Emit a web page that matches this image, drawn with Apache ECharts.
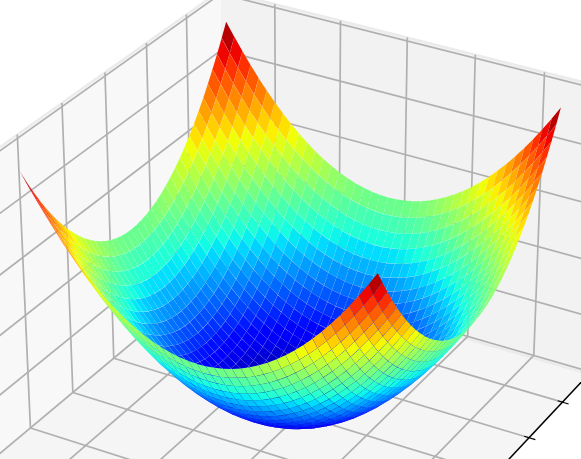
<!DOCTYPE html><html><head><meta charset="utf-8"><style>html,body{margin:0;background:#fff}#c{width:581px;height:459px}</style></head><body><div id="c"></div>
<script src="https://cdn.jsdelivr.net/npm/echarts@6/dist/echarts.min.js"></script>
<script>
// Surface heights: one quadrant of the symmetric bowl.
// Row = grid steps from the centre line; column = edge (0) to centre (20).
const zQuadrant=[
[400,361,324,289,256,225,196,169,144,121,100,81,64,49,36,25,16,9,4,1,0],
[401,362,325,290,257,226,197,170,145,122,101,82,65,50,37,26,17,10,5,2,1],
[404,365,328,293,260,229,200,173,148,125,104,85,68,53,40,29,20,13,8,5,4],
[409,370,333,298,265,234,205,178,153,130,109,90,73,58,45,34,25,18,13,10,9],
[416,377,340,305,272,241,212,185,160,137,116,97,80,65,52,41,32,25,20,17,16],
[425,386,349,314,281,250,221,194,169,146,125,106,89,74,61,50,41,34,29,26,25],
[436,397,360,325,292,261,232,205,180,157,136,117,100,85,72,61,52,45,40,37,36],
[449,410,373,338,305,274,245,218,193,170,149,130,113,98,85,74,65,58,53,50,49],
[464,425,388,353,320,289,260,233,208,185,164,145,128,113,100,89,80,73,68,65,64],
[481,442,405,370,337,306,277,250,225,202,181,162,145,130,117,106,97,90,85,82,81],
[500,461,424,389,356,325,296,269,244,221,200,181,164,149,136,125,116,109,104,101,100],
[521,482,445,410,377,346,317,290,265,242,221,202,185,170,157,146,137,130,125,122,121],
[544,505,468,433,400,369,340,313,288,265,244,225,208,193,180,169,160,153,148,145,144],
[569,530,493,458,425,394,365,338,313,290,269,250,233,218,205,194,185,178,173,170,169],
[596,557,520,485,452,421,392,365,340,317,296,277,260,245,232,221,212,205,200,197,196],
[625,586,549,514,481,450,421,394,369,346,325,306,289,274,261,250,241,234,229,226,225],
[656,617,580,545,512,481,452,425,400,377,356,337,320,305,292,281,272,265,260,257,256],
[689,650,613,578,545,514,485,458,433,410,389,370,353,338,325,314,305,298,293,290,289],
[724,685,648,613,580,549,520,493,468,445,424,405,388,373,360,349,340,333,328,325,324],
[761,722,685,650,617,586,557,530,505,482,461,442,425,410,397,386,377,370,365,362,361],
[800,761,724,689,656,625,596,569,544,521,500,481,464,449,436,425,416,409,404,401,400]];
const N=41,zMax=800;
const zAt=(i,j)=>zQuadrant[Math.abs(i-20)][20-Math.abs(j-20)];
const P=[[60.974044,-41.048892,-2.585667,243.99128],[15.932218,26.626937,-55.573571,308.648499],[-0.008339,-0.01706,-0.00856,1]];
const a=.84,b=.88,Xm=4.85,Ym=4.88,Zm=5.06;
const Xl=-.5,Xh=4.45,Yl=-.45,Yh=4.47,Zt=4.82,Z0=.1,cellGap=.99;
function project(X,Y,Z){const w=P[2][0]*X+P[2][1]*Y+P[2][2]*Z+P[2][3];return [(P[0][0]*X+P[0][1]*Y+P[0][2]*Z+P[0][3])/w,(P[1][0]*X+P[1][1]*Y+P[1][2]*Z+P[1][3])/w,w];}
const jr=[[0,0],[.35,0],[.66,1],[.89,1],[1,.5]],jg=[[0,0],[.125,0],[.375,1],[.64,1],[.91,0],[1,0]],jb=[[0,.5],[.11,1],[.34,1],[.65,0],[1,0]];
const lerp=(s,t)=>{for(let i=1;i<s.length;i++)if(t<=s[i][0])return s[i-1][1]+(s[i][1]-s[i-1][1])*(t-s[i-1][0])/(s[i][0]-s[i-1][0]);return s[s.length-1][1];};
const jet=t=>`rgb(${Math.round(255*lerp(jr,t))},${Math.round(255*lerp(jg,t))},${Math.round(255*lerp(jb,t))})`;
const world=(i,j,z)=>[Xl+(Xh-Xl)*i/(N-1),Yl+(Yh-Yl)*j/(N-1),Z0+(Zt-Z0)*z/zMax];
const cells=[];for(let i=0;i<N-1;i++)for(let j=0;j<N-1;j++){const m=(zAt(i,j)+zAt(i+1,j)+zAt(i+1,j+1)+zAt(i,j+1))/4;cells.push([i,j,m,project(...world(i+.5,j+.5,m))[2]]);}
cells.sort((p,q)=>q[3]-p[3]);
const poly=(api,list,fill,k=1)=>{const pts=list.map(p=>api.coord(project(...p).slice(0,2)));const cx=pts.reduce((s,p)=>s+p[0],0)/pts.length,cy=pts.reduce((s,p)=>s+p[1],0)/pts.length;return {type:'polygon',shape:{points:pts.map(p=>[cx+(p[0]-cx)*k,cy+(p[1]-cy)*k])},style:{fill},silent:true};};
const panes=[[[ -a,-b,0],[Xm,-b,0],[Xm,-b,Zm],[-a,-b,Zm]],[[-a,-b,0],[-a,Ym,0],[-a,Ym,Zm],[-a,-b,Zm]],[[-a,-b,0],[Xm,-b,0],[Xm,Ym,0],[-a,Ym,0]]];
const paneFill=['#f2f2f2','#f8f8f8','#f5f5f5'];
const G='#b0b0b0',E='#ebebeb',K='#000',W=1.7;
const lines=[];
[[[-a,-b,Zm],[Xm,-b,Zm]],[[-a,-b,Zm],[-a,Ym,Zm]],[[-a,-b+.06,0],[Xm,-b+.06,0]]].forEach(l=>lines.push([...l,E,2.4]));
for(let n=0;n<=4;n++){lines.push([[n,-b,Zm],[n,-b,0],G,W],[[n,-b,0],[n,Ym,0],G,W]);}
for(let m=0;m<=4;m++){lines.push([[-a,m,Zm],[-a,m,0],G,W],[[-a,m,0],[Xm,m,0],G,W]);}
for(let z=0;z<=5;z++){lines.push([[-a,Ym,z],[-a,-b,z],G,W],[[-a,-b,z],[Xm,-b,z],G,W]);}
lines.push([[Xm,-b,0],[Xm,Ym,0],K,1.5]);
for(let m=0;m<=4;m++)lines.push([[Xm-.07,m,0],[Xm+.09,m,0],K,1.2]);
const ch=echarts.init(document.getElementById('c'));
ch.setOption({animation:false,
grid:{left:0,right:0,top:0,bottom:0},xAxis:{type:'value',min:0,max:581,show:false},yAxis:{type:'value',min:0,max:459,inverse:true,show:false},
series:[{type:'custom',coordinateSystem:'cartesian2d',data:panes.map((_,i)=>[i]),z:1,renderItem:(p,api)=>{const i=api.value(0);return poly(api,panes[i],paneFill[i]);}},
{type:'custom',coordinateSystem:'cartesian2d',data:lines.map((_,i)=>[i]),z:2,renderItem:(p,api)=>{const l=lines[api.value(0)];const s=api.coord(project(...l[0]).slice(0,2)),e=api.coord(project(...l[1]).slice(0,2));return {type:'line',shape:{x1:s[0],y1:s[1],x2:e[0],y2:e[1]},style:{stroke:l[2],lineWidth:l[3]},silent:true};}},
{type:'custom',coordinateSystem:'cartesian2d',data:cells.map(c=>[c[0],c[1],c[2]]),z:3,renderItem:(p,api)=>{const i=api.value(0),j=api.value(1),m=api.value(2);return poly(api,[world(i,j,zAt(i,j)),world(i+1,j,zAt(i+1,j)),world(i+1,j+1,zAt(i+1,j+1)),world(i,j+1,zAt(i,j+1))],jet(m/zMax),cellGap);}}]});
</script></body></html>
